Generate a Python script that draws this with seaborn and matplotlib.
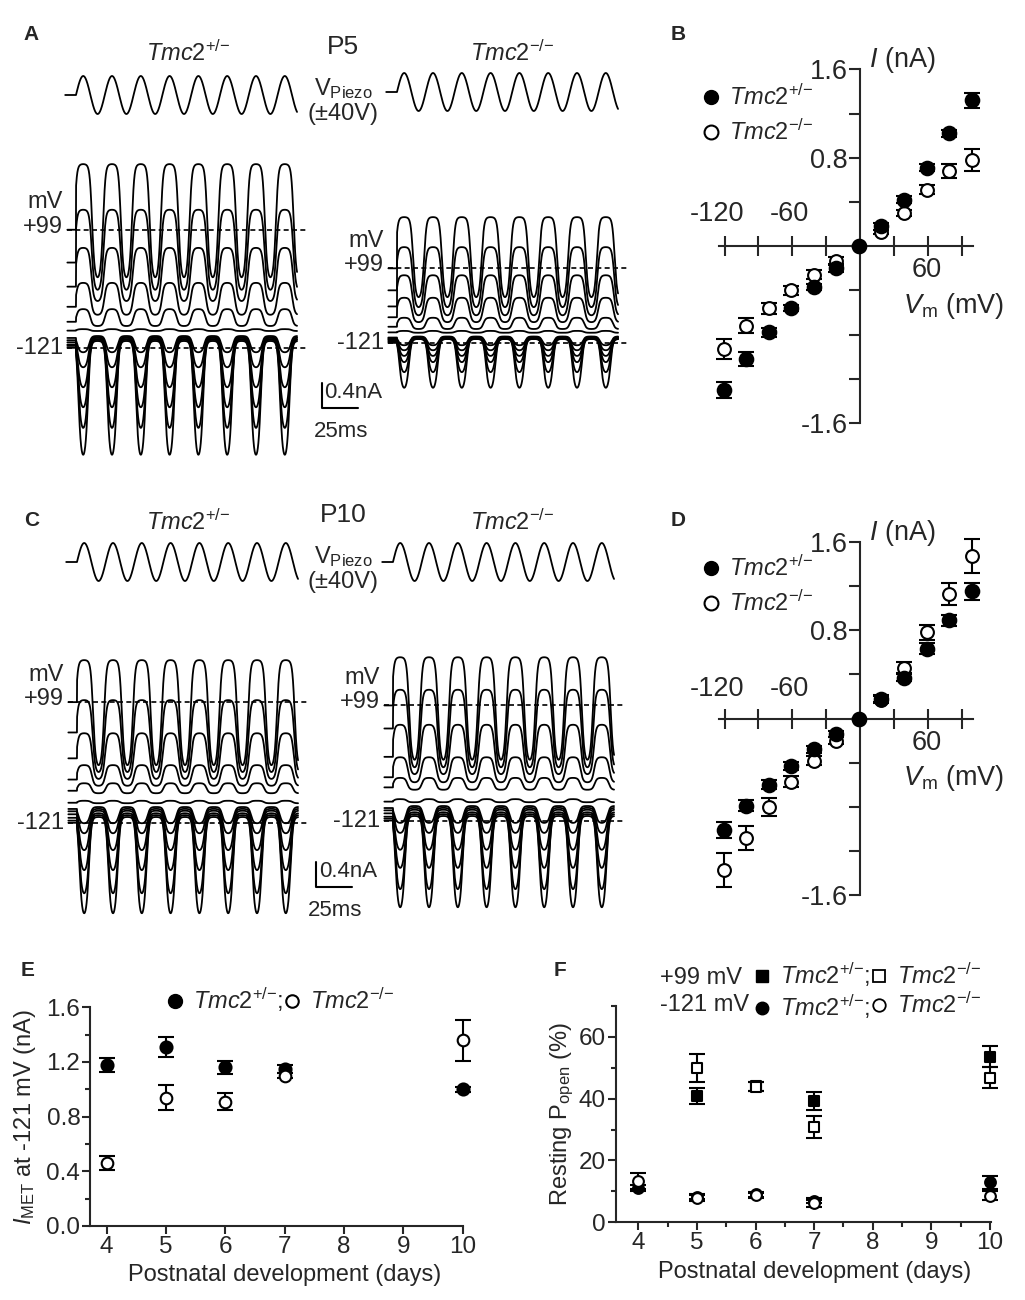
import numpy as np
import pandas as pd
import matplotlib
matplotlib.use('Agg')
import matplotlib.pyplot as plt
import seaborn as sns
from matplotlib.lines import Line2D
from matplotlib.ticker import MultipleLocator

# ---------------- data ----------------
# holding potentials of the current traces (top to bottom)
volts = [99, 79, 59, 39, 19, -1, -21, -41, -61, -81, -101, -121]

# MET current traces: closed-channel level, peak level (nA) and resting open fraction
p5_het_closed = [1.02, 0.82, 0.64, 0.42, 0.24, 0.16, 0.08, 0.06, 0.05, 0.03, 0.02, 0.00]
p5_het_peak = [2.83, 2.10, 1.49, 0.93, 0.51, 0.19, -0.18, -0.42, -0.74, -1.06, -1.39, -1.82]
p5_het_rest = [0.42, 0.34, 0.27, 0.25, 0.25, 0.20, 0.12, 0.10, 0.09, 0.08, 0.07, 0.06]

p5_ko_closed = [0.67, 0.51, 0.38, 0.27, 0.16, 0.10, 0.04, 0.03, 0.02, 0.01, 0.00, 0.00]
p5_ko_peak = [1.95, 1.47, 1.02, 0.66, 0.34, 0.13, -0.10, -0.18, -0.27, -0.37, -0.53, -0.78]
p5_ko_rest = [0.36, 0.28, 0.22, 0.20, 0.20, 0.20, 0.12, 0.10, 0.09, 0.08, 0.08, 0.08]

p10_het_closed = [0.83, 0.72, 0.61, 0.50, 0.38, 0.22, 0.16, 0.13, 0.10, 0.06, 0.03, 0.00]
p10_het_peak = [2.51, 1.87, 1.34, 0.83, 0.54, 0.26, -0.10, -0.26, -0.53, -0.85, -1.22, -1.54]
p10_het_rest = [0.60, 0.55, 0.45, 0.30, 0.25, 0.20, 0.12, 0.10, 0.09, 0.08, 0.07, 0.06]

p10_ko_closed = [0.90, 0.78, 0.67, 0.54, 0.42, 0.22, 0.16, 0.13, 0.10, 0.06, 0.03, 0.00]
p10_ko_peak = [2.54, 2.02, 1.46, 0.94, 0.61, 0.27, -0.11, -0.27, -0.54, -0.83, -1.17, -1.46]
p10_ko_rest = [0.53, 0.50, 0.35, 0.20, 0.20, 0.20, 0.12, 0.10, 0.09, 0.08, 0.06, 0.05]

# stimulus level (fraction of piezo drive) at half activation, per holding potential
half_act = [-0.40, -0.32, -0.22, -0.12, 0.0, 0.1, 0.30, 0.38, 0.44, 0.50, 0.55, 0.60]

stim_period = 20.0      # ms (50 Hz)
stim_amp = 40.0         # V
trace_start, trace_end = -6.0, 153.5

# I-V curves (B: P5, D: P10)
iv_v = [-121, -101, -81, -61, -41, -21, -1, 19, 39, 59, 79, 99]
p5_het_i = [-1.30, -1.02, -0.78, -0.56, -0.37, -0.20, 0.0, 0.18, 0.42, 0.71, 1.02, 1.32]
p5_het_err = [0.07, 0.06, 0.04, 0.03, 0.03, 0.03, 0.0, 0.03, 0.03, 0.03, 0.03, 0.07]
p5_ko_i = [-0.93, -0.72, -0.56, -0.40, -0.26, -0.13, 0.0, 0.13, 0.30, 0.51, 0.68, 0.78]
p5_ko_err = [0.09, 0.07, 0.05, 0.04, 0.04, 0.03, 0.0, 0.02, 0.03, 0.04, 0.06, 0.10]

p10_het_i = [-1.01, -0.79, -0.60, -0.43, -0.28, -0.14, 0.0, 0.18, 0.37, 0.63, 0.89, 1.15]
p10_het_err = [0.07, 0.05, 0.04, 0.04, 0.03, 0.03, 0.0, 0.03, 0.03, 0.05, 0.05, 0.08]
p10_ko_i = [-1.37, -1.08, -0.80, -0.57, -0.38, -0.20, 0.0, 0.17, 0.46, 0.78, 1.13, 1.47]
p10_ko_err = [0.15, 0.11, 0.08, 0.05, 0.04, 0.03, 0.0, 0.03, 0.05, 0.07, 0.10, 0.15]

# E: I_MET at -121 mV
days = [4, 5, 6, 7, 10]
imet_het = [1.18, 1.31, 1.16, 1.15, 1.00]
imet_het_err = [0.05, 0.075, 0.05, 0.03, 0.02]
imet_ko = [0.46, 0.94, 0.91, 1.10, 1.36]
imet_ko_err = [0.05, 0.09, 0.065, 0.02, 0.15]

# F: resting open probability
days_99 = [5, 6, 7, 10]
popen_het_99 = [40.9, 44.0, 39.2, 53.6]
popen_het_99_err = [2.5, 1.5, 3.0, 3.5]
popen_ko_99 = [49.8, 43.9, 30.9, 46.8]
popen_ko_99_err = [4.5, 1.5, 3.5, 3.5]
days_121 = [4, 5, 6, 7, 10]
popen_het_121 = [11.0, 8.3, 9.0, 7.0, 12.9]
popen_het_121_err = [1.0, 0.8, 0.8, 0.8, 2.0]
popen_ko_121 = [13.4, 7.8, 8.8, 6.1, 8.6]
popen_ko_121_err = [2.5, 1.0, 0.8, 1.0, 1.5]

HET = r'$\mathit{Tmc2}^{\mathit{+/{-}}}$'
KO = r'$\mathit{Tmc2}^{\mathit{-/{-}}}$'

# ---------------- style ----------------
sns.set_style('ticks')
plt.rcParams['font.family'] = ['Liberation Sans', 'DejaVu Sans']
plt.rcParams['mathtext.fontset'] = 'custom'
plt.rcParams['mathtext.rm'] = 'Liberation Sans'
plt.rcParams['mathtext.it'] = 'Liberation Sans:italic'
plt.rcParams['mathtext.bf'] = 'Liberation Sans:bold'
plt.rcParams['axes.linewidth'] = 1.5
FS = 17
FS_TICK = 17.5

W, H = 1025, 1300
fig = plt.figure(figsize=(W / 100, H / 100), dpi=100)


def px_axes(l, t, r, b):
    ax = fig.add_axes([l / W, 1 - b / H, (r - l) / W, (b - t) / H])
    ax.patch.set_alpha(0)
    return ax


def ftext(x, y, s, **kw):
    fig.text(x / W, 1 - y / H, s, **kw)


def open_fraction(t, rest, mid, k=0.27):
    s = np.sin(2 * np.pi * t / stim_period)
    lo = 1 / (1 + np.exp(-(-1 - mid) / k))
    hi = 1 / (1 + np.exp(-(1 - mid) / k))
    p = (1 / (1 + np.exp(-(s - mid) / k)) - lo) / (hi - lo)
    return np.where(t >= 0, p, rest)


PX_MS = 1.44     # pixels per ms
PX_NA = 62.5     # pixels per nA
PX_V = 19 / 40   # pixels per piezo volt


def trace_block(t0_px, stim_px, ref_px, closed, peak, rest, scalebar=None):
    l, r = t0_px - 60, t0_px + 310
    # stimulus
    sax = px_axes(l, stim_px - 40, r, stim_px + 40)
    sax.set_xlim((l - t0_px) / PX_MS, (r - t0_px) / PX_MS)
    sax.set_ylim(-40 / PX_V, 40 / PX_V)
    sax.axis('off')
    ts = np.linspace(-7.5, trace_end, 2000)
    stim = np.where(ts >= 0, stim_amp * np.sin(2 * np.pi * ts / stim_period), 0.0)
    sax.plot(ts, stim, color='k', lw=1.3)

    # currents
    ax = px_axes(l, ref_px - 200, r, ref_px + 140)
    ax.set_xlim((l - t0_px) / PX_MS, (r - t0_px) / PX_MS)
    ax.set_ylim(-140 / PX_NA, 200 / PX_NA)
    ax.axis('off')
    t = np.linspace(trace_start, trace_end, 3000)
    for c, p, r0, m in zip(closed, peak, rest, half_act):
        ax.plot(t, c + (p - c) * open_fraction(t, r0, m), color='k', lw=1.3)
    rest_hi = closed[0] + (peak[0] - closed[0]) * rest[0]
    rest_lo = closed[-1] + (peak[-1] - closed[-1]) * rest[-1]
    for lev in (rest_hi, rest_lo):
        ax.hlines(lev, trace_start, 160, colors='k', lw=1.2, linestyles=(0, (3, 2)))
    ax.text(-9, rest_hi + 0.44, 'mV', ha='right', va='center', fontsize=FS)
    ax.text(-9, rest_hi + 0.05, '+99', ha='right', va='center', fontsize=FS)
    ax.text(-9, rest_lo, '-121', ha='right', va='center', fontsize=FS)
    if scalebar is not None:
        sb_t, sb_i = scalebar
        ax.plot([sb_t, sb_t, sb_t + 25], [sb_i + 0.4, sb_i, sb_i], color='k', lw=1.5)
        ax.text(sb_t + 2, sb_i + 0.25, '0.4nA', ha='left', va='center', fontsize=16)
        ax.text(sb_t + 13.5, sb_i - 0.38, '25ms', ha='center', va='center', fontsize=16)


trace_block(76, 95, 341, p5_het_closed, p5_het_peak, p5_het_rest, scalebar=(170.6, -1.07))
trace_block(397, 92, 339, p5_ko_closed, p5_ko_peak, p5_ko_rest)
trace_block(77, 562, 817, p10_het_closed, p10_het_peak, p10_het_rest, scalebar=(166, -1.12))
trace_block(393, 562, 816, p10_ko_closed, p10_ko_peak, p10_ko_rest)

# headings for the trace panels
for y_t, y_p, lab in ((53, 47, 'P5'), (522, 515, 'P10')):
    ftext(188, y_t, HET, ha='center', va='center', fontsize=FS)
    ftext(512, y_t, KO, ha='center', va='center', fontsize=FS)
    ftext(343, y_p, lab, ha='center', va='center', fontsize=19)
    ftext(343, y_p + 42, r'V$_{\mathrm{Piezo}}$', ha='center', va='center', fontsize=FS)
    ftext(343, y_p + 67, '(±40V)', ha='center', va='center', fontsize=FS)

for x, y, s in ((31, 34, 'A'), (678, 34, 'B'), (32, 520, 'C'), (678, 521, 'D'),
                (28, 971, 'E'), (560, 971, 'F')):
    ftext(x, y, s, ha='center', va='center', fontsize=15, fontweight='bold')


# ---------------- I-V panels ----------------
def iv_panel(top_px, het, het_err, ko, ko_err, lab_y, leg_y):
    ax = px_axes(719, top_px, 973.4, top_px + 353.7)
    ax.set_xlim(-125, 100.5)
    ax.set_ylim(-1.6, 1.6)
    ax.errorbar(iv_v, ko, yerr=ko_err, fmt='none', ecolor='k', elinewidth=1.5,
                capsize=6, capthick=1.5, zorder=2, clip_on=False)
    ax.errorbar(iv_v, het, yerr=het_err, fmt='none', ecolor='k', elinewidth=1.5,
                capsize=6, capthick=1.5, zorder=2, clip_on=False)
    sns.scatterplot(x=iv_v, y=ko, ax=ax, marker='o', s=85, color='white',
                    edgecolor='k', linewidth=1.5, zorder=3, clip_on=False, legend=False)
    sns.scatterplot(x=iv_v, y=het, ax=ax, marker='o', s=95, color='k',
                    edgecolor='k', linewidth=1.5, zorder=4, clip_on=False, legend=False)
    for side in ('top', 'right'):
        ax.spines[side].set_visible(False)
    ax.spines['left'].set_position(('data', 0))
    ax.spines['bottom'].set_position(('data', 0))
    ax.set_xticks([-120, -90, -60, -30, 30, 60, 90])
    ax.set_xticklabels([])
    ax.tick_params(axis='x', direction='inout', length=14, width=1.5)
    ax.set_yticks([-1.6, -1.2, -0.8, -0.4, 0.4, 0.8, 1.2, 1.6])
    ax.set_yticklabels(['-1.6', '', '', '', '', '0.8', '', '1.6'])
    ax.tick_params(axis='y', direction='out', length=8, width=1.5, labelsize=19.5, pad=1)
    ax.text(-127, lab_y, '-120', ha='center', va='center', fontsize=19.5)
    ax.text(-63, lab_y, '-60', ha='center', va='center', fontsize=19.5)
    ax.text(59, -0.22, '60', ha='center', va='center', fontsize=19.5)
    ax.text(8, 1.68, r'$\mathit{I}$ (nA)', ha='left', va='center', fontsize=19.5)
    ax.text(38, -0.54, r'$\mathit{V}_{\mathrm{m}}$ (mV)', ha='left', va='center', fontsize=19.5)
    handles = [Line2D([], [], marker='o', ls='none', mfc='k', mec='k', ms=10),
               Line2D([], [], marker='o', ls='none', mfc='white', mec='k', mew=1.5, ms=10)]
    fig.legend(handles, [HET, KO], loc='center left', bbox_to_anchor=(702 / W, 1 - leg_y / H),
               frameon=False, fontsize=FS, handlelength=0.8, handletextpad=0.35,
               labelspacing=0.4, borderpad=0, borderaxespad=0)
    return ax


iv_panel(69.3, p5_het_i, p5_het_err, p5_ko_i, p5_ko_err, 0.29, 115)
iv_panel(541.7, p10_het_i, p10_het_err, p10_ko_i, p10_ko_err, 0.27, 586)


# ---------------- E ----------------
def scatter_err(ax, x, y, err, marker, s, filled, z):
    ax.errorbar(x, y, yerr=err, fmt='none', ecolor='k', elinewidth=1.5,
                capsize=5.5, capthick=1.5, zorder=z, clip_on=False)
    sns.scatterplot(x=x, y=y, ax=ax, marker=marker, s=s,
                    color='k' if filled else 'white', edgecolor='k', linewidth=1.5,
                    zorder=z + 0.5, clip_on=False, legend=False)


axE = px_axes(90, 1007.3, 463, 1226)
scatter_err(axE, days, imet_het, imet_het_err, 'o', 75, True, 2)
scatter_err(axE, days, imet_ko, imet_ko_err, 'o', 70, False, 3)
axE.set_xlim(3.72, 10.005)
axE.set_ylim(0, 1.6)
sns.despine(ax=axE)
axE.set_xticks([4, 5, 6, 7, 8, 9, 10])
axE.yaxis.set_major_locator(MultipleLocator(0.4))
axE.yaxis.set_minor_locator(MultipleLocator(0.2))
axE.yaxis.set_major_formatter('{x:.1f}')
axE.tick_params(which='major', direction='out', length=5.5, width=1.5, labelsize=FS_TICK, pad=1.5)
axE.tick_params(which='minor', direction='out', length=3.5, width=1.5)
axE.set_ylabel(r'$\mathit{I}_{\mathrm{MET}}$ at -121 mV (nA)', fontsize=FS)
axE.yaxis.set_label_coords(-0.14, 0.5)
axE.set_xlabel('Postnatal development (days)', fontsize=FS)
axE.xaxis.set_label_coords(0.523, -0.172)
hE = [Line2D([], [], marker='o', ls='none', mfc='k', mec='k', ms=10),
      Line2D([], [], marker='o', ls='none', mfc='white', mec='k', mew=1.5, ms=9)]
fig.legend(hE, [HET + ';', KO], loc='center', bbox_to_anchor=(280 / W, 1 - 1000 / H), ncol=2,
           frameon=False, fontsize=FS, handlelength=0.8, handletextpad=0.35, columnspacing=0.0,
           borderpad=0, borderaxespad=0)

# ---------------- F ----------------
axF = px_axes(615.7, 1005.8, 990.5, 1222.3)
scatter_err(axF, days_99, popen_het_99, popen_het_99_err, 's', 50, True, 2)
scatter_err(axF, days_99, popen_ko_99, popen_ko_99_err, 's', 50, False, 3)
scatter_err(axF, days_121, popen_het_121, popen_het_121_err, 'o', 60, True, 4)
scatter_err(axF, days_121, popen_ko_121, popen_ko_121_err, 'o', 60, False, 5)
axF.set_xlim(3.614, 10.01)
axF.set_ylim(0, 70)
sns.despine(ax=axF)
axF.set_xticks([4, 5, 6, 7, 8, 9, 10])
axF.xaxis.set_minor_locator(MultipleLocator(0.5))
axF.yaxis.set_major_locator(MultipleLocator(20))
axF.yaxis.set_minor_locator(MultipleLocator(10))
axF.tick_params(which='major', direction='out', length=5.5, width=1.5, labelsize=FS_TICK, pad=1.5)
axF.tick_params(which='minor', direction='out', length=3.5, width=1.5)
axF.set_ylabel(r'Resting P$_{\mathrm{open}}$ (%)', fontsize=FS)
axF.yaxis.set_label_coords(-0.105, 0.5)
axF.set_xlabel('Postnatal development (days)', fontsize=FS)
axF.xaxis.set_label_coords(0.532, -0.18)
hF = [Line2D([], [], marker='s', ls='none', mfc='k', mec='k', ms=8),
      Line2D([], [], marker='o', ls='none', mfc='k', mec='k', ms=9),
      Line2D([], [], marker='s', ls='none', mfc='white', mec='k', mew=1.3, ms=8),
      Line2D([], [], marker='o', ls='none', mfc='white', mec='k', mew=1.3, ms=9)]
fig.legend(hF, [HET + ';', HET + ';', KO, KO], loc='center', bbox_to_anchor=(867 / W, 1 - 991 / H),
           ncol=2, frameon=False, fontsize=FS, handlelength=0.8, handletextpad=0.35,
           columnspacing=0.0, labelspacing=0.15, borderpad=0, borderaxespad=0)
ftext(660, 978, '+99 mV', ha='left', va='center', fontsize=FS)
ftext(660, 1005, '-121 mV', ha='left', va='center', fontsize=FS)

fig.savefig('out.png', dpi=100)
